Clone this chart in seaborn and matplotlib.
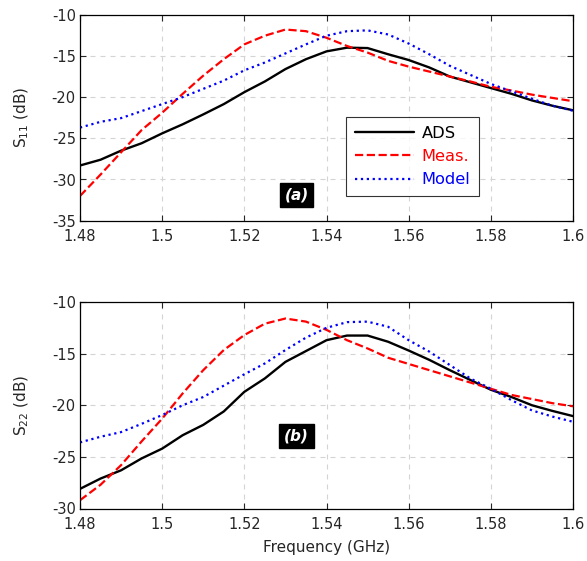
import numpy as np
import pandas as pd
import matplotlib
matplotlib.use("Agg")
import matplotlib.pyplot as plt
import seaborn as sns

# frequency points (GHz)
freq = [1.48, 1.485, 1.49, 1.495, 1.50, 1.505, 1.51, 1.515, 1.52, 1.525, 1.53, 1.535,
        1.54, 1.545, 1.55, 1.555, 1.56, 1.565, 1.57, 1.575, 1.58, 1.585, 1.59, 1.595, 1.60]

# S11 (dB)
s11_ads = [-28.3, -27.6, -26.5, -25.6, -24.4, -23.3, -22.1, -20.85, -19.4, -18.1, -16.6, -15.4,
           -14.45, -14.0, -14.05, -14.8, -15.5, -16.4, -17.5, -18.2, -18.9, -19.6, -20.4, -21.05, -21.6]
s11_meas = [-32.0, -29.4, -26.7, -24.0, -21.9, -19.6, -17.4, -15.4, -13.6, -12.55, -11.8, -12.0,
            -12.8, -13.8, -14.6, -15.6, -16.3, -16.9, -17.5, -18.1, -18.75, -19.2, -19.7, -20.1, -20.5]
s11_model = [-23.7, -23.0, -22.55, -21.7, -20.85, -20.0, -19.0, -18.0, -16.75, -15.8, -14.7, -13.6,
             -12.55, -12.0, -11.9, -12.4, -13.5, -14.8, -16.2, -17.3, -18.4, -19.3, -20.2, -21.05, -21.65]

# S22 (dB)
s22_ads = [-28.1, -27.1, -26.3, -25.15, -24.2, -22.9, -21.9, -20.6, -18.7, -17.4, -15.8, -14.75,
           -13.7, -13.25, -13.25, -13.85, -14.7, -15.6, -16.6, -17.55, -18.5, -19.2, -20.0, -20.55, -21.05]
s22_meas = [-29.2, -27.7, -25.8, -23.5, -21.3, -18.85, -16.6, -14.65, -13.2, -12.1, -11.6, -11.9,
            -12.7, -13.7, -14.5, -15.4, -16.0, -16.6, -17.2, -17.8, -18.4, -19.0, -19.4, -19.8, -20.1]
s22_model = [-23.6, -23.05, -22.6, -21.8, -20.95, -20.0, -19.2, -18.1, -17.0, -15.95, -14.65, -13.45,
             -12.5, -11.95, -11.9, -12.4, -13.7, -14.8, -16.1, -17.4, -18.4, -19.5, -20.5, -21.1, -21.6]

series_names = ["ADS", "Meas.", "Model"]
series_colors = ["black", "red", "blue"]
series_styles = ["-", "--", ":"]

xticks = [1.48, 1.5, 1.52, 1.54, 1.56, 1.58, 1.6]
xtick_labels = ["1.48", "1.5", "1.52", "1.54", "1.56", "1.58", "1.6"]

sns.set_style("ticks")
plt.rcParams["font.family"] = ["DejaVu Sans"]
plt.rcParams["mathtext.fontset"] = "dejavusans"
plt.rcParams["xtick.direction"] = "in"
plt.rcParams["ytick.direction"] = "in"

fig = plt.figure(figsize=(5.87, 5.61), dpi=100)
W, H = 587, 561
ax1 = fig.add_axes([80 / W, 1 - 220.7 / H, 493 / W, 206 / H])
ax2 = fig.add_axes([80 / W, 1 - 508.5 / H, 493 / W, 206.5 / H])


def draw_panel(ax, data, ylabel, ylim, yticks, tag, tag_y):
    for vals, name, c, ls in zip(data, series_names, series_colors, series_styles):
        df = pd.DataFrame({"f": freq, "v": vals})
        sns.lineplot(data=df, x="f", y="v", ax=ax, color=c, linestyle=ls,
                     linewidth=1.7 if ls == "-" else 1.6, label=name)
    ax.set_xlim(1.48, 1.6)
    ax.set_ylim(*ylim)
    ax.set_xticks(xticks)
    ax.set_xticklabels(xtick_labels)
    ax.set_yticks(yticks)
    ax.set_yticklabels([str(t) for t in yticks])
    ax.grid(True, color="#d4d4d4", linestyle=(0, (4.5, 4.5)), linewidth=0.8)
    ax.set_axisbelow(True)
    ax.tick_params(labelsize=10.5, length=4, width=0.8, top=True, right=True)
    ax.tick_params(axis="x", pad=6)
    ax.tick_params(axis="y", pad=3)
    for s in ax.spines.values():
        s.set_linewidth(0.9)
        s.set_color("black")
    ax.set_ylabel(ylabel, fontsize=11, labelpad=15)
    ax.set_xlabel("")
    ax.text(1.5327, tag_y, tag, ha="center", va="center", color="white",
            fontsize=11, fontweight="bold", fontstyle="italic",
            bbox=dict(boxstyle="square,pad=0.3", facecolor="black", edgecolor="black"))


draw_panel(ax1, [s11_ads, s11_meas, s11_model], "S$_{11}$ (dB)", (-35, -10),
           [-35, -30, -25, -20, -15, -10], "(a)", -31.9)
draw_panel(ax2, [s22_ads, s22_meas, s22_model], "S$_{22}$ (dB)", (-30, -10),
           [-30, -25, -20, -15, -10], "(b)", -22.95)

leg = ax1.legend(loc="upper left", bbox_to_anchor=(0.54, 0.503),
                 fontsize=11.7, frameon=True, fancybox=False, edgecolor="black",
                 handlelength=3.6, handletextpad=0.5, borderpad=0.55, labelspacing=0.5,
                 borderaxespad=0.0)
leg.get_frame().set_linewidth(0.8)
for txt, c in zip(leg.get_texts(), series_colors):
    txt.set_color(c)
ax2.get_legend().remove()

ax2.set_xlabel("Frequency (GHz)", fontsize=11, labelpad=6)

fig.savefig("out.png", dpi=100)
